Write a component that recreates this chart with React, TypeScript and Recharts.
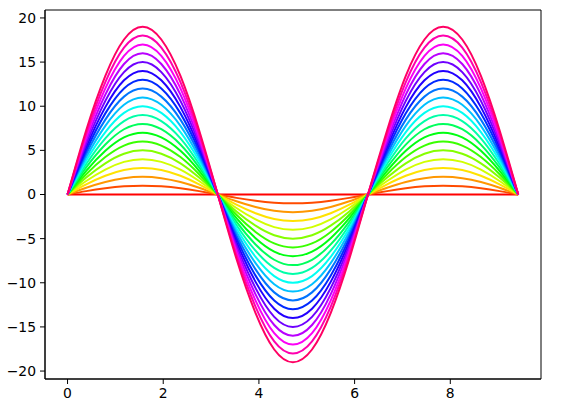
import { LineChart, Line, XAxis, YAxis, ReferenceArea } from "recharts";

// sample positions along x (multiples of pi/8, up to 3*pi)
const xs = [
  0, 0.39, 0.79, 1.18, 1.57, 1.96, 2.36, 2.75, 3.14, 3.53, 3.93, 4.32, 4.71,
  5.11, 5.5, 5.89, 6.28, 6.68, 7.07, 7.46, 7.85, 8.25, 8.64, 9.03, 9.42,
];
// wave shape, normalised to its peak
const shape = [
  0, 0.383, 0.707, 0.924, 1, 0.924, 0.707, 0.383, 0, -0.383, -0.707, -0.924,
  -1, -0.924, -0.707, -0.383, 0, 0.383, 0.707, 0.924, 1, 0.924, 0.707, 0.383, 0,
];
// peak height of each curve
const amplitudes = [0, 1, 2, 3, 4, 5, 6, 7, 8, 9, 10, 11, 12, 13, 14, 15, 16, 17, 18, 19];
const colors = [
  "#ff0000", "#ff4b00", "#ff9700", "#ffe200", "#d1ff00", "#85ff00", "#3aff00",
  "#00ff11", "#00ff5c", "#00ffa8", "#00fff3", "#00c0ff", "#0074ff", "#0029ff",
  "#2200ff", "#6e00ff", "#b900ff", "#fb00f6", "#ff00ae", "#ff0063",
];
const xTicks = [0, 2, 4, 6, 8];
const yTicks = [-20, -15, -10, -5, 0, 5, 10, 15, 20];

const rows = xs.map((x, i) => {
  const row: Record<string, number> = { x };
  amplitudes.forEach((a, k) => {
    row["s" + k] = a * shape[i];
  });
  return row;
});

const X_DOMAIN = [-0.4712, 9.896];
const Y_DOMAIN = [-20.9, 20.9];
const fmt = (v: number) => String(v).replace("-", "\u2212");
const tickStyle = { fill: "#000", fontSize: 13.9, fontFamily: "DejaVu Sans" };

export default function App() {
  return (
    <div style={{ position: "absolute", left: 0, top: 0, background: "#fff" }}>
      <LineChart
        width={561}
        height={409}
        data={rows}
        margin={{ top: 10, right: 20, bottom: 0, left: 0 }}
      >
        <XAxis
          dataKey="x"
          type="number"
          domain={X_DOMAIN}
          ticks={xTicks}
          allowDataOverflow
          height={30}
          tick={tickStyle}
          tickSize={5}
          tickMargin={4}
          tickFormatter={fmt}
          stroke="#000"
        />
        <YAxis
          type="number"
          domain={Y_DOMAIN}
          ticks={yTicks}
          allowDataOverflow
          width={45}
          tick={tickStyle}
          tickSize={5}
          tickMargin={4}
          tickFormatter={fmt}
          stroke="#000"
        />
        <ReferenceArea
          x1={X_DOMAIN[0]}
          x2={X_DOMAIN[1]}
          y1={Y_DOMAIN[0]}
          y2={Y_DOMAIN[1]}
          fill="none"
          stroke="#000"
          strokeWidth={1}
        />
        {amplitudes.map((a, k) => (
          <Line
            key={k}
            dataKey={"s" + k}
            type="natural"
            stroke={colors[k]}
            strokeWidth={2}
            dot={false}
            isAnimationActive={false}
          />
        ))}
      </LineChart>
    </div>
  );
}
